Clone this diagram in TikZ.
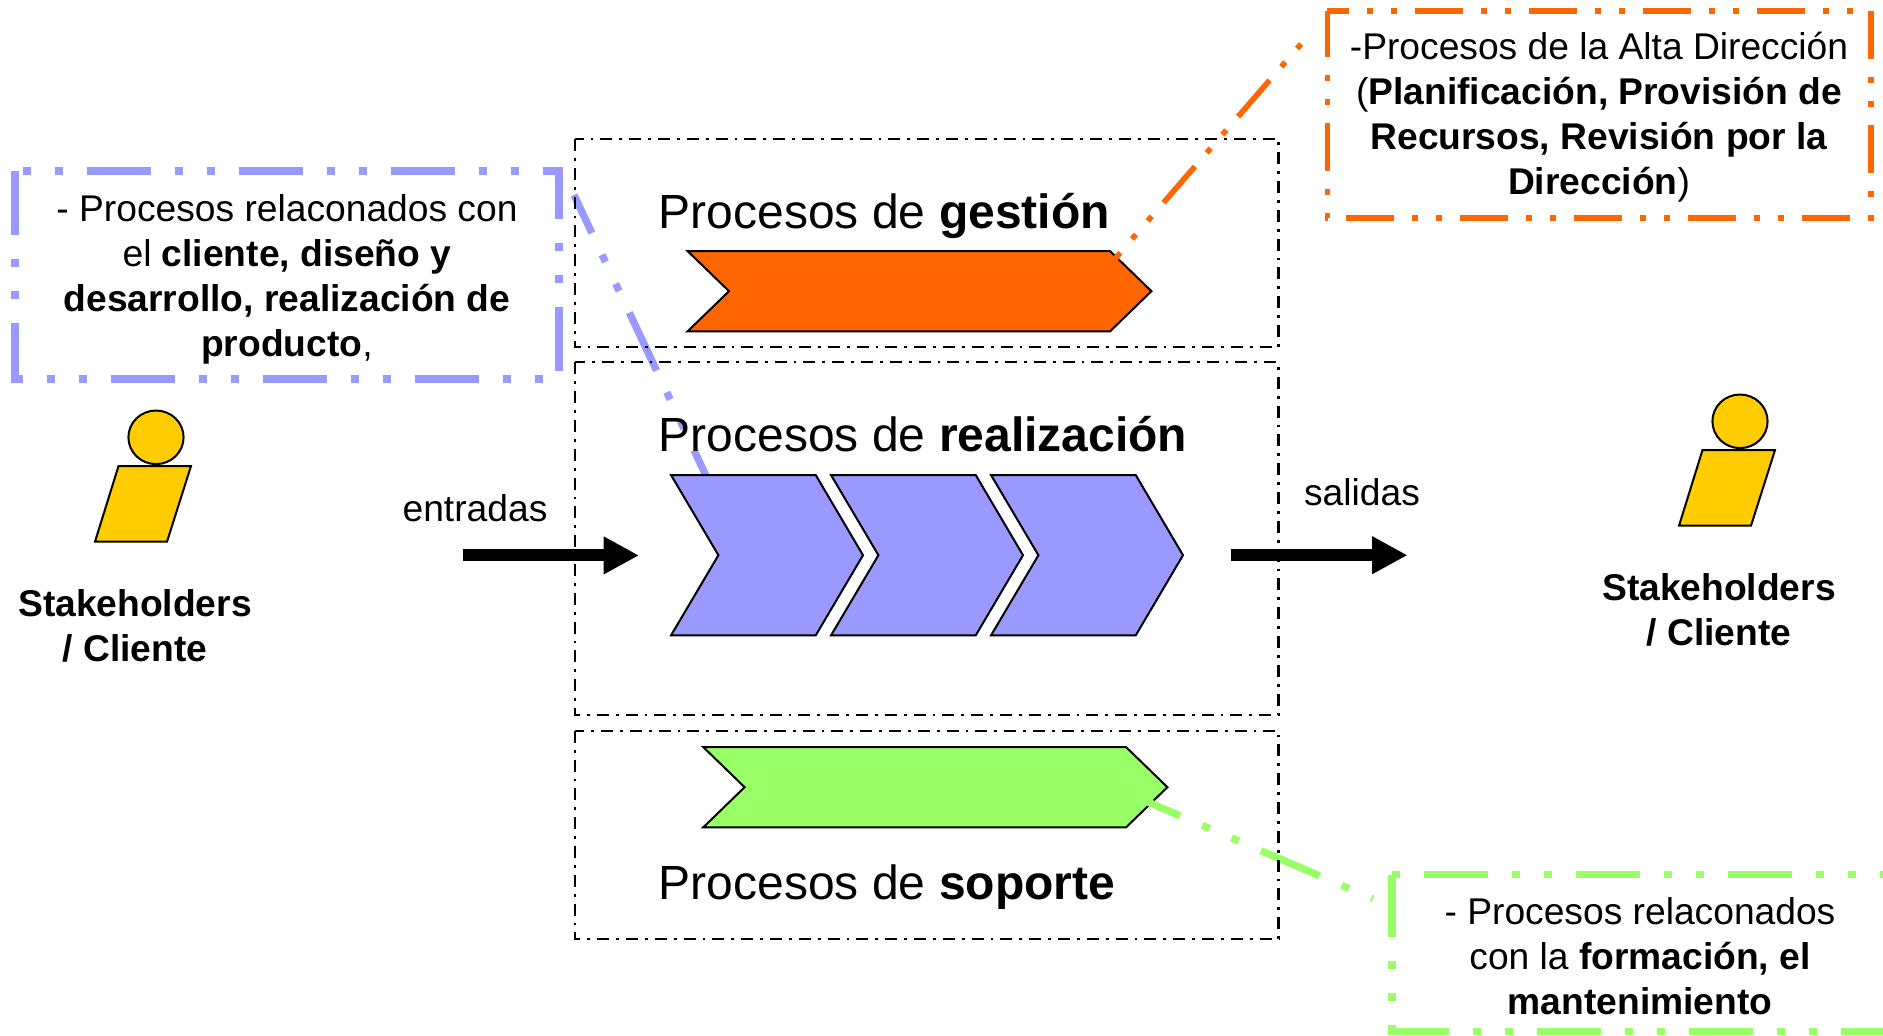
\documentclass[tikz,border=0pt]{standalone}
\usepackage{fontspec}
\setmainfont{Liberation Sans}
\usetikzlibrary{arrows.meta}
\definecolor{procorange}{HTML}{FF6600}
\definecolor{procblue}{HTML}{9999FF}
\definecolor{procgreen}{HTML}{99FF66}
\definecolor{personyellow}{HTML}{FFCC00}
\tikzset{
  longdash/.style={line width=3.65pt,dash pattern=on 32pt off 12pt on 4pt off 12pt on 4pt off 12pt},
  shortdash/.style={line width=2.8pt,dash pattern=on 24pt off 9pt on 3pt off 9pt on 3pt off 9pt},
  panel/.style={line width=1.1pt,dash pattern=on 6pt off 3.5pt on 1.4pt off 3.5pt},
  procshape/.style={draw=black,line width=1pt,line join=miter},
  bigarrow/.style={line width=6pt,-{Triangle[length=17.7pt,width=17.7pt]}},
  labeltext/.style={inner sep=0pt,anchor=base,font=\fontsize{18.6}{22.5}\selectfont,align=center},
  paneltitle/.style={inner sep=0pt,anchor=base west,font=\fontsize{24}{28}\selectfont},
}
\begin{document}
\begin{tikzpicture}[x=0.5pt,y=-0.5pt]
    \useasboundingbox (0,0) rectangle (1883,1035);
    % line behind the blue chevrons
    \coordinate (blueFrom) at (574,195);
    \coordinate (blueTo) at (708,480);
    \draw[longdash,procblue,dash phase=11pt] (blueFrom) -- (blueTo);
    % chevrons
    \draw[procshape,fill=procorange] (687.5,251) -- (1110,251) -- (1151.4,291.2) -- (1110,331.4) -- (687.5,331.4) -- (729,291.2) -- cycle;
    \foreach \dx in {0,160,320}{
        \draw[procshape,fill=procblue] (671+\dx,475) -- (815.7+\dx,475) -- (863+\dx,555.2) -- (815.7+\dx,635.4) -- (671+\dx,635.4) -- (718.4+\dx,555.2) -- cycle;
    }
    \draw[procshape,fill=procgreen] (703.2,747) -- (1126,747) -- (1167.4,787.2) -- (1126,827.4) -- (703.2,827.4) -- (744.6,787.2) -- cycle;
    % other two lines
    \coordinate (orangeFrom) at (1301,44);
    \coordinate (orangeTo) at (1113,261);
    \draw[shortdash,procorange,dash phase=33pt] (orangeFrom) -- (orangeTo);
    \coordinate (greenFrom) at (1140,798.6);
    \coordinate (greenTo) at (1373,898.8);
    \draw[longdash,procgreen,dash phase=10.2pt] (greenFrom) -- (greenTo);
    % panels
    \foreach \ytop/\ybot in {139/347,362.3/715,730.7/939}{
        \draw[panel] (575,\ytop) rectangle (1278.5,\ybot);
    }
    \node[paneltitle] (gestion) at (658.5,228.2) {Procesos de \textbf{gestión}};
    \node[paneltitle] (realizacion) at (658.5,451.2) {Procesos de \textbf{realización}};
    \node[paneltitle] (soporte) at (658.5,899.5) {Procesos de \textbf{soporte}};
    % arrows
    \coordinate (inFrom) at (462.8,555.4);
    \coordinate (inTo) at (639,555.4);
    \coordinate (outFrom) at (1231,555.2);
    \coordinate (outTo) at (1407.5,555.2);
    \draw[bigarrow] (inFrom) -- (inTo);
    \draw[bigarrow] (outFrom) -- (outTo);
    \node[labeltext] (entradas) at (475,521.7) {entradas};
    \node[labeltext] (salidas) at (1362,505) {salidas};
    % persons
    \foreach \n/\dx/\dy in {L/0/0,R/1584/-16}{
        \draw[procshape,fill=personyellow] (118.5+\dx,466+\dy) -- (191+\dx,466+\dy) -- (167+\dx,541.7+\dy) -- (95+\dx,541.7+\dy) -- cycle;
        \draw[procshape,fill=personyellow] (156+\dx,437.3+\dy) ellipse [x radius=27.6,y radius=26.8];
        \node[labeltext] (cliente\n) at (135+\dx,661.5+\dy) {\textbf{Stakeholders}\\\textbf{/ Cliente}};
    }
    % text boxes
    \draw[longdash,procblue,dash phase=40pt] (15,171) -- (559,171) -- (559,379) -- (15,379) -- cycle;
    \node[labeltext] (textblue) at (287,356) {- Procesos relaconados con\\el \textbf{cliente, diseño y}\\\textbf{desarrollo, realización de}\\\textbf{producto},};
    \draw[shortdash,procorange,dash phase=13pt] (1327.3,10.7) -- (1871,10.7) -- (1871,218) -- (1327.3,218) -- cycle;
    \node[labeltext] (textorange) at (1599,194.5) {-Procesos de la Alta Dirección\\(\textbf{Planificación, Provisión de}\\\textbf{Recursos, Revisión por la}\\\textbf{Dirección})};
    \draw[longdash,procgreen,dash phase=60pt] (1392,874.7) -- (1890,874.7) -- (1890,1031.7) -- (1392,1031.7) -- cycle;
    \node[labeltext] (textgreen) at (1640,1014) {- Procesos relaconados\\con la \textbf{formación, el}\\\textbf{mantenimiento}};
\end{tikzpicture}
\end{document}
